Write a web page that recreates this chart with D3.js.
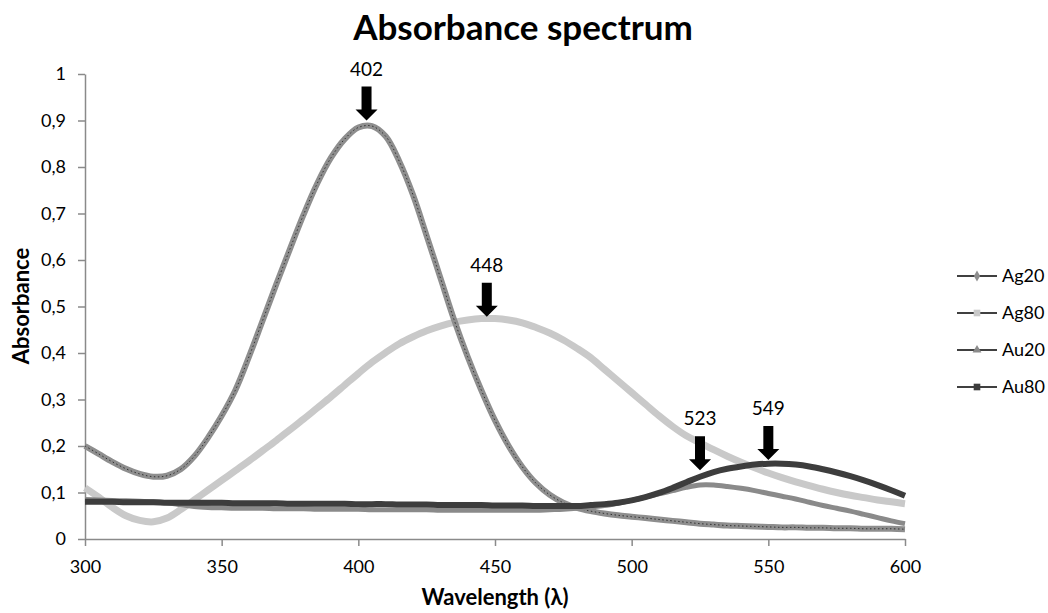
<!DOCTYPE html>
<html>
<head>
<meta charset="utf-8">
<script src="https://cdn.jsdelivr.net/npm/d3@7"></script>
<style>
  body { margin: 0; background: #fff; }
  svg text { font-family: Lato, "Open Sans", sans-serif; fill: #000; }
</style>
</head>
<body>
<svg id="chart" width="1048" height="613"></svg>
<script>
const wavelengths = [
  300, 305, 310, 315, 320, 325, 330, 335, 340, 345,
  350, 355, 360, 365, 370, 375, 380, 385, 390, 395,
  400, 405, 410, 415, 420, 425, 430, 435, 440, 445,
  450, 455, 460, 465, 470, 475, 480, 485, 490, 495,
  500, 505, 510, 515, 520, 525, 530, 535, 540, 545,
  550, 555, 560, 565, 570, 575, 580, 585, 590, 595, 600
];

const ag20 = [
  0.200, 0.183, 0.166, 0.151, 0.140, 0.134, 0.136, 0.150, 0.178, 0.218,
  0.265, 0.320, 0.392, 0.470, 0.548, 0.624, 0.698, 0.765, 0.820, 0.860,
  0.885, 0.888, 0.866, 0.812, 0.740, 0.652, 0.562, 0.472, 0.392, 0.320,
  0.255, 0.200, 0.155, 0.120, 0.095, 0.078, 0.067, 0.060, 0.055, 0.051,
  0.048, 0.045, 0.042, 0.039, 0.036, 0.033, 0.031, 0.029, 0.028, 0.027,
  0.026, 0.025, 0.025, 0.024, 0.024, 0.023, 0.023, 0.022, 0.022, 0.022, 0.021
];

const ag80 = [
  0.110, 0.090, 0.068, 0.050, 0.040, 0.037, 0.045, 0.063, 0.084, 0.105,
  0.126, 0.147, 0.168, 0.190, 0.212, 0.235, 0.258, 0.282, 0.306, 0.331,
  0.356, 0.380, 0.401, 0.420, 0.435, 0.448, 0.458, 0.466, 0.471, 0.474,
  0.474, 0.471, 0.465, 0.455, 0.443, 0.428, 0.410, 0.390, 0.365, 0.340,
  0.315, 0.290, 0.265, 0.242, 0.222, 0.207, 0.192, 0.178, 0.165, 0.153,
  0.142, 0.132, 0.123, 0.115, 0.107, 0.100, 0.094, 0.089, 0.084, 0.080, 0.076
];

const au20 = [
  0.085, 0.084, 0.083, 0.082, 0.081, 0.080, 0.078, 0.074, 0.070, 0.068,
  0.067, 0.066, 0.066, 0.066, 0.065, 0.065, 0.065, 0.064, 0.064, 0.064,
  0.064, 0.063, 0.063, 0.063, 0.063, 0.063, 0.062, 0.062, 0.062, 0.062,
  0.062, 0.062, 0.062, 0.062, 0.063, 0.064, 0.066, 0.069, 0.072, 0.077,
  0.083, 0.090, 0.097, 0.104, 0.111, 0.116, 0.116, 0.113, 0.109, 0.104,
  0.098, 0.092, 0.086, 0.079, 0.072, 0.066, 0.060, 0.053, 0.046, 0.039, 0.033
];

const au80 = [
  0.080, 0.080, 0.080, 0.079, 0.079, 0.079, 0.078, 0.078, 0.078, 0.078,
  0.078, 0.077, 0.077, 0.077, 0.077, 0.076, 0.076, 0.076, 0.076, 0.076,
  0.075, 0.075, 0.075, 0.074, 0.074, 0.074, 0.073, 0.073, 0.073, 0.073,
  0.072, 0.072, 0.072, 0.071, 0.071, 0.071, 0.071, 0.073, 0.075, 0.078,
  0.083, 0.090, 0.099, 0.110, 0.122, 0.134, 0.144, 0.151, 0.156, 0.160,
  0.162, 0.162, 0.160, 0.156, 0.150, 0.143, 0.135, 0.126, 0.116, 0.105, 0.093
];

const seriesNames = ["Ag20", "Ag80", "Au20", "Au80"];
const xTicks = [300, 350, 400, 450, 500, 550, 600];
const yTicks = [0, 0.1, 0.2, 0.3, 0.4, 0.5, 0.6, 0.7, 0.8, 0.9, 1];

// peak annotations: label, wavelength under the arrow, absorbance at arrow tip
const peakLabels = ["402", "448", "523", "549"];
const peakAt = [403, 447, 525, 550];
const peakTip = [0.9, 0.478, 0.148, 0.17];

const plot = { left: 85, right: 905, top: 74, bottom: 539 };

const svg = d3.select("#chart");

const x = d3.scaleLinear().domain([300, 600]).range([plot.left, plot.right]);
const y = d3.scaleLinear().domain([0, 1]).range([plot.bottom, plot.top]);

const style = {
  Ag20: { color: "#8e8e8e", width: 6, marker: "diamond" },
  Ag80: { color: "#c9c9c9", width: 7, marker: "square" },
  Au20: { color: "#8a8a8a", width: 5, marker: "triangle" },
  Au80: { color: "#3d3d3d", width: 6, marker: "square" }
};

const seriesData = {
  Ag20: wavelengths.map((w, i) => [w, ag20[i]]),
  Ag80: wavelengths.map((w, i) => [w, ag80[i]]),
  Au20: wavelengths.map((w, i) => [w, au20[i]]),
  Au80: wavelengths.map((w, i) => [w, au80[i]])
};

// axes
const axisColor = "#8a8a8a";

const yAxis = svg.append("g")
  .attr("transform", `translate(${plot.left},0)`)
  .call(d3.axisLeft(y)
    .tickValues(yTicks)
    .tickSize(7)
    .tickSizeOuter(0)
    .tickPadding(12)
    .tickFormat(d => String(d).replace(".", ",")));

const xAxis = svg.append("g")
  .attr("transform", `translate(0,${plot.bottom})`)
  .call(d3.axisBottom(x)
    .tickValues(xTicks)
    .tickSize(7)
    .tickSizeOuter(0)
    .tickPadding(14));

[yAxis, xAxis].forEach(g => {
  g.select(".domain").attr("stroke", axisColor).attr("stroke-width", 1.5);
  g.selectAll(".tick line").attr("stroke", axisColor).attr("stroke-width", 1.5);
  g.selectAll(".tick text")
    .attr("font-size", 18)
    .attr("font-family", "Lato, sans-serif")
    .attr("fill", "#000");
});

// lines
const line = d3.line()
  .x(d => x(d[0]))
  .y(d => y(d[1]))
  .curve(d3.curveCatmullRom.alpha(0.5));

const drawOrder = ["Ag80", "Ag20", "Au20", "Au80"];

drawOrder.forEach(name => {
  svg.append("path")
    .datum(seriesData[name])
    .attr("fill", "none")
    .attr("stroke", style[name].color)
    .attr("stroke-width", style[name].width)
    .attr("stroke-linejoin", "round")
    .attr("d", line);

  if (name === "Ag20") {
    svg.append("path")
      .datum(seriesData[name])
      .attr("fill", "none")
      .attr("stroke", "#333")
      .attr("stroke-width", 1)
      .attr("stroke-dasharray", "1.5,2.5")
      .attr("d", line);
  }
});

// peak arrows
const arrowLen = 34;
const headH = 11;
const shaftW = 10;
const headW = 22;

peakLabels.forEach((label, i) => {
  const cx = x(peakAt[i]);
  const tip = y(peakTip[i]);
  const top = tip - arrowLen;
  const pts = [
    [cx - shaftW / 2, top],
    [cx + shaftW / 2, top],
    [cx + shaftW / 2, tip - headH],
    [cx + headW / 2, tip - headH],
    [cx, tip],
    [cx - headW / 2, tip - headH],
    [cx - shaftW / 2, tip - headH]
  ];
  svg.append("polygon")
    .attr("points", pts.map(p => p.join(",")).join(" "))
    .attr("fill", "#000");

  svg.append("text")
    .attr("x", cx)
    .attr("y", top - 11)
    .attr("text-anchor", "middle")
    .attr("font-size", 19)
    .text(label);
});

// titles
svg.append("text")
  .attr("x", 523)
  .attr("y", 40)
  .attr("text-anchor", "middle")
  .attr("font-size", 35)
  .attr("font-weight", "bold")
  .text("Absorbance spectrum");

svg.append("text")
  .attr("transform", "translate(29,306) rotate(-90)")
  .attr("text-anchor", "middle")
  .attr("font-size", 22)
  .attr("font-weight", "bold")
  .text("Absorbance");

svg.append("text")
  .attr("x", 495)
  .attr("y", 605)
  .attr("text-anchor", "middle")
  .attr("font-size", 22)
  .attr("font-weight", "bold")
  .text("Wavelength (λ)");

// legend
const legend = svg.append("g").attr("transform", "translate(957,276)");

seriesNames.forEach((name, i) => {
  const g = legend.append("g").attr("transform", `translate(0,${i * 37})`);
  g.append("line")
    .attr("x1", 0).attr("x2", 40)
    .attr("stroke", "#000").attr("stroke-width", 1.5);

  const s = style[name];
  const sym = s.marker === "diamond" ? d3.symbolDiamond
    : s.marker === "triangle" ? d3.symbolTriangle : d3.symbolSquare;
  g.append("path")
    .attr("transform", "translate(20,0)")
    .attr("d", d3.symbol(sym, s.marker === "square" ? 44 : 34)())
    .attr("fill", s.color);

  g.append("text")
    .attr("x", 45)
    .attr("y", 6)
    .attr("font-size", 18)
    .text(name);
});
</script>
</body>
</html>
